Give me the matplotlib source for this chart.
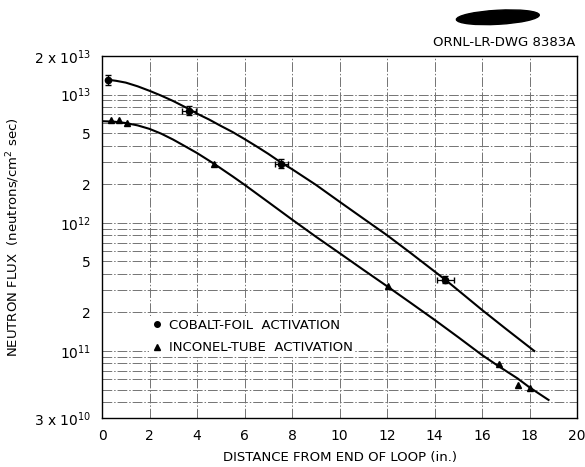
import numpy as np
import matplotlib
matplotlib.use('Agg')
import matplotlib.pyplot as plt
from matplotlib.patches import Ellipse
from matplotlib.lines import Line2D
from matplotlib.ticker import FixedLocator, NullFormatter

# cobalt-foil activation points (with error bars)
cobalt_x = [0.25, 3.67, 7.55, 14.45]
cobalt_y = [1.31e13, 7.5e12, 2.9e12, 3.6e11]
cobalt_xerr = [0.0, 0.3, 0.28, 0.36]
cobalt_yerr_frac = [0.09, 0.08, 0.08, 0.06]

# inconel-tube activation points
inconel_x = [0.37, 0.7, 1.05, 4.7, 12.05, 16.7, 17.5, 18.0]
inconel_y = [6.3e12, 6.3e12, 6.0e12, 2.9e12, 3.2e11, 7.9e10, 5.4e10, 5.1e10]

# fitted curves
upper_x = [0.2, 0.6, 1.0, 1.5, 2.0, 2.5, 3.0, 3.67, 4.0, 4.5, 5.0, 5.5, 6.0, 6.5, 7.0, 7.55, 8.0, 9.0,
           10.0, 11.0, 12.0, 13.0, 14.45, 15.0, 16.0, 17.0, 18.2]
upper_y = [1.31e13, 1.28e13, 1.24e13, 1.16e13, 1.07e13, 9.8e12, 8.9e12, 7.7e12, 7.1e12, 6.4e12, 5.7e12,
           5.1e12, 4.5e12, 3.95e12, 3.45e12, 2.94e12, 2.62e12, 1.98e12, 1.46e12, 1.08e12, 8.0e11,
           5.8e11, 3.6e11, 2.97e11, 2.09e11, 1.49e11, 1.0e11]

lower_x = [0.0, 0.5, 1.0, 1.5, 2.0, 2.5, 3.0, 3.5, 4.0, 4.7, 5.5, 6.0, 7.0, 8.0, 9.0, 10.0, 11.0,
           12.0, 13.0, 14.0, 15.0, 16.0, 16.7, 17.5, 18.0, 18.8]
lower_y = [6.2e12, 6.15e12, 6.0e12, 5.75e12, 5.4e12, 4.95e12, 4.45e12, 3.95e12, 3.5e12, 2.9e12,
           2.3e12, 1.98e12, 1.45e12, 1.06e12, 7.8e11, 5.8e11, 4.3e11, 3.2e11, 2.37e11, 1.75e11,
           1.28e11, 9.3e10, 7.6e10, 6.1e10, 5.2e10, 4.15e10]

ytick_vals = [3e10, 1e11, 2e11, 5e11, 1e12, 2e12, 5e12, 1e13, 2e13]
ytick_labels = [r'3 x $10^{10}$', r'$10^{11}$', '2', '5', r'$10^{12}$', '2', '5', r'$10^{13}$', r'2 x $10^{13}$']
xtick_vals = list(range(0, 21, 2))

grid_style = dict(linestyle=(0, (10, 2, 1.5, 2)), color='0.45', linewidth=0.7)


def main():

    plt.rcParams['font.family'] = 'DejaVu Sans'
    fig = plt.figure(figsize=(5.85, 4.67), dpi=100)
    ax = fig.add_axes([0.1744, 0.1049, 0.812, 0.7752])

    ax.set_yscale('log')
    ax.set_xlim(0, 20)
    ax.set_ylim(3e10, 2e13)

    ax.set_xticks(xtick_vals)
    ax.set_yticks(ytick_vals)
    ax.set_yticklabels(ytick_labels)
    minor = [m * 10.0 ** e for e in (10, 11, 12) for m in range(2, 10)]
    ax.yaxis.set_minor_locator(FixedLocator(minor))
    ax.yaxis.set_minor_formatter(NullFormatter())
    ax.tick_params(which='both', length=0, labelsize=10, pad=8)

    ax.grid(True, which='major', axis='both', **grid_style)
    ax.grid(True, which='minor', axis='y', **grid_style)
    ax.set_axisbelow(True)

    for s in ax.spines.values():
        s.set_linewidth(1.0)

    ax.plot(upper_x, upper_y, color='k', lw=1.5, zorder=3)
    ax.plot(lower_x, lower_y, color='k', lw=1.5, zorder=3)

    cy = np.array(cobalt_y)
    yerr = cy * np.array(cobalt_yerr_frac)
    ax.errorbar(cobalt_x, cobalt_y, xerr=cobalt_xerr, yerr=yerr, fmt='o', ms=4.5,
                color='k', ecolor='k', elinewidth=0.9, capsize=2, zorder=4)
    ax.plot(inconel_x, inconel_y, '^', ms=5, color='k', zorder=4)

    handles = [Line2D([], [], marker='o', ls='', color='k', ms=4),
               Line2D([], [], marker='^', ls='', color='k', ms=4)]
    leg = ax.legend(handles, ['COBALT-FOIL  ACTIVATION', 'INCONEL-TUBE  ACTIVATION'],
                    loc='lower left', bbox_to_anchor=(0.085, 0.15), fontsize=9.5,
                    frameon=True, facecolor='white', edgecolor='none', framealpha=1,
                    handletextpad=0.5, handlelength=0.8, labelspacing=0.75,
                    borderpad=0.2, fancybox=False)
    leg.set_zorder(2.5)

    ax.set_xlabel('DISTANCE FROM END OF LOOP (in.)', fontsize=9.5, labelpad=6)
    ax.set_ylabel(r'NEUTRON FLUX  (neutrons/cm$^2$ sec)', fontsize=9.5, labelpad=8)

    fig.text(0.983, 0.91, 'ORNL-LR-DWG 8383A', ha='right', va='center', fontsize=9.5)
    blob = Ellipse((0.851, 0.963), 0.142, 0.03, angle=4, transform=fig.transFigure,
                   color='k')
    fig.patches.append(blob)

    fig.savefig('out.png', dpi=100)


if __name__ == '__main__':
    main()
